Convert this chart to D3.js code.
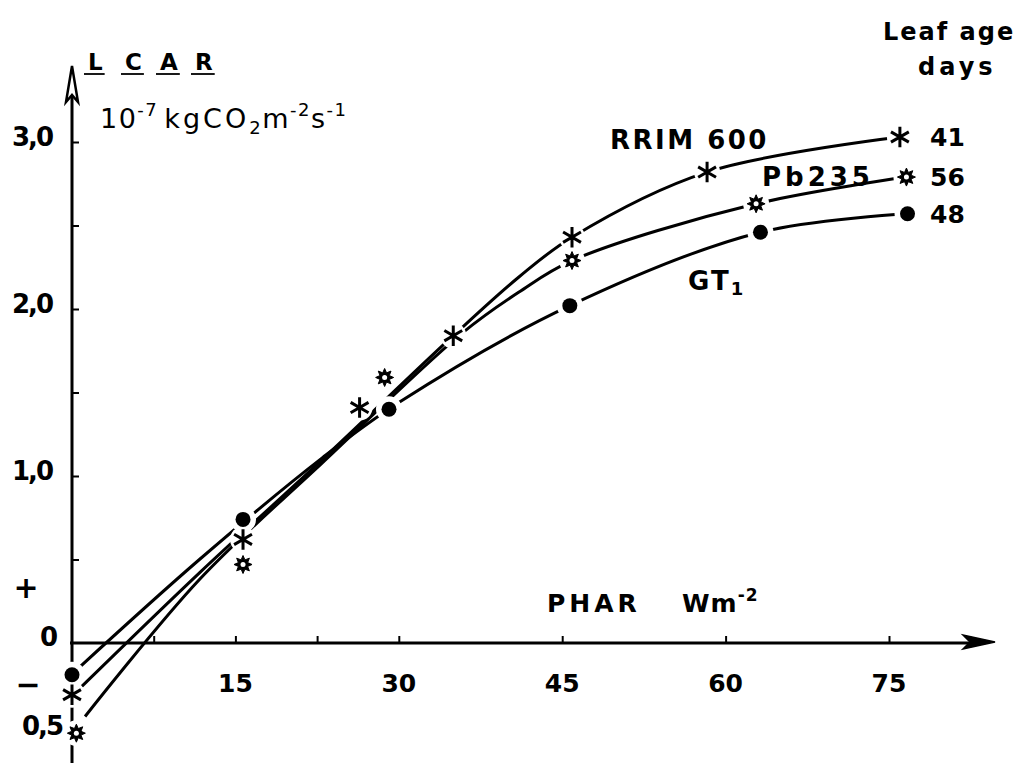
<!DOCTYPE html>
<html lang="en">
<head>
    <meta charset="utf-8">
    <title>LCAR vs PHAR</title>
    <style>
        body { margin: 0; background: #fff; }
        svg text { font-family: "DejaVu Sans", sans-serif; font-weight: bold; fill: #000; }
    </style>
</head>
<body>
    <div id="chart"></div>
    <script src="https://cdn.jsdelivr.net/npm/d3@7"></script>
    <script>
        // fitted curves [PHAR, LCAR]
        var rrimFit = [[0.9, -0.26], [11.7, 0.42], [23, 1.10], [35, 1.84], [41, 2.19], [45.9, 2.43], [58.3, 2.82], [76, 3.03]];
        var pbFit = [[1.2, -0.44], [11.7, 0.38], [23, 1.08], [35.9, 1.86], [41, 2.10], [45.9, 2.29], [62.8, 2.63], [76.6, 2.79]];
        var gt1Fit = [[0.6, -0.15], [11.7, 0.50], [23, 1.11], [30, 1.44], [45.7, 2.02], [63.2, 2.46], [76.7, 2.57]];

        // measured points
        var rrimPts = [[0, -0.31], [15.7, 0.62], [26.4, 1.41], [35, 1.84], [45.9, 2.43], [58.3, 2.82], [76, 3.03]];
        var pbPts = [[0.4, -0.54], [15.7, 0.47], [28.7, 1.59], [45.9, 2.29], [62.8, 2.63], [76.6, 2.79]];
        var gt1Pts = [[0, -0.19], [15.7, 0.74], [29.1, 1.40], [45.7, 2.02], [63.2, 2.46], [76.7, 2.57]];

        var xTicks = [7.5, 15, 22.5, 30, 45, 60, 75];
        var xTickLabels = ["15", "30", "45", "60", "75"];
        var yTicks = [0.5, 1, 1.5, 2, 2.5, 3];
        var yTickLabels = ["1,0", "2,0", "3,0"];
        var leafAges = ["41", "56", "48"];

        var w = 1030;
        var h = 763;

        var x = d3.scaleLinear().domain([0, 75]).range([72, 889]);
        var y = d3.scaleLinear().domain([0, 3]).range([643, 142]);

        var svg = d3.select("#chart").append("svg")
            .attr("width", w)
            .attr("height", h);

        var x0 = x(0);
        var yZero = y(0);

        // y axis line + arrow
        svg.append("line")
            .attr("x1", x0).attr("x2", x0)
            .attr("y1", h).attr("y2", 90)
            .attr("stroke", "#000").attr("stroke-width", 3);
        svg.append("path")
            .attr("d", "M" + x0 + ",66 L" + (x0 - 6) + ",102 L" + x0 + ",95 L" + (x0 + 6) + ",102 Z")
            .attr("fill", "#fff").attr("stroke", "#000").attr("stroke-width", 2.5);

        // x axis line + arrow
        svg.append("line")
            .attr("x1", x0 - 2).attr("x2", 975)
            .attr("y1", yZero).attr("y2", yZero)
            .attr("stroke", "#000").attr("stroke-width", 3);
        svg.append("path")
            .attr("d", "M995," + (yZero - 1) + " L963," + (yZero - 8) + " L970," + (yZero - 1) + " L963," + (yZero + 6) + " Z")
            .attr("fill", "#000").attr("stroke", "#000").attr("stroke-width", 1.5);

        // ticks
        var yAxis = svg.append("g")
            .attr("transform", "translate(" + x0 + ",0)")
            .call(d3.axisRight(y).tickValues(yTicks).tickSize(7).tickFormat(""));
        yAxis.select(".domain").remove();
        yAxis.selectAll("line").attr("stroke-width", 2);

        var xAxis = svg.append("g")
            .attr("transform", "translate(0," + yZero + ")")
            .call(d3.axisTop(x).tickValues(xTicks).tickSize(7).tickFormat(""));
        xAxis.select(".domain").remove();
        xAxis.selectAll("line").attr("stroke-width", 2);

        // tick labels
        svg.selectAll("text.xlab")
            .data(xTickLabels)
            .enter()
            .append("text")
            .attr("class", "xlab")
            .attr("x", function(d) { return x(+d); })
            .attr("y", 692)
            .attr("text-anchor", "middle")
            .attr("font-size", "25px")
            .text(function(d) { return d; });

        svg.selectAll("text.ylab")
            .data(yTickLabels)
            .enter()
            .append("text")
            .attr("class", "ylab")
            .attr("x", 52)
            .attr("y", function(d) { return y(+d.replace(",", ".")) + 4; })
            .attr("text-anchor", "end")
            .attr("font-size", "26px")
            .attr("letter-spacing", "-2px")
            .text(function(d) { return d; });

        svg.append("text").attr("x", 58).attr("y", yZero + 3)
            .attr("text-anchor", "end").attr("font-size", "26px").text("0");
        svg.append("text").attr("x", 62).attr("y", y(-0.5) + 8)
            .attr("text-anchor", "end").attr("font-size", "26px").attr("letter-spacing", "-2px").text("0,5");
        svg.append("text").attr("x", 26).attr("y", 598)
            .attr("text-anchor", "middle").attr("font-size", "30px").text("+");
        svg.append("text").attr("x", 28).attr("y", 695)
            .attr("text-anchor", "middle").attr("font-size", "30px").text("\u2212");

        // curves
        var line = d3.line()
            .x(function(d) { return x(d[0]); })
            .y(function(d) { return y(d[1]); })
            .curve(d3.curveCatmullRom.alpha(0.5));

        [rrimFit, pbFit, gt1Fit].forEach(function(s) {
            svg.append("path")
                .attr("d", line(s))
                .attr("fill", "none")
                .attr("stroke", "#000")
                .attr("stroke-width", 3);
        });

        // white gap round each marker
        var allPts = rrimPts.concat(pbPts, gt1Pts);
        svg.selectAll("circle.halo")
            .data(allPts)
            .enter()
            .append("circle")
            .attr("class", "halo")
            .attr("cx", function(d) { return x(d[0]); })
            .attr("cy", function(d) { return y(d[1]); })
            .attr("r", 13)
            .attr("fill", "#fff");

        // RRIM 600: asterisks
        svg.selectAll("path.rrim")
            .data(rrimPts)
            .enter()
            .append("path")
            .attr("class", "rrim")
            .attr("transform", function(d) { return "translate(" + x(d[0]) + "," + y(d[1]) + ")"; })
            .attr("d", d3.symbol(d3.symbolAsterisk, 300))
            .attr("fill", "none")
            .attr("stroke", "#000")
            .attr("stroke-width", 3);

        // Pb235: small stars
        var star = {
            draw: function(ctx, size) {
                var ro = 9, ri = 5;
                for (var i = 0; i < 16; i++) {
                    var r = i % 2 ? ri : ro;
                    var a = i * Math.PI / 8 - Math.PI / 2;
                    if (i === 0) ctx.moveTo(r * Math.cos(a), r * Math.sin(a));
                    else ctx.lineTo(r * Math.cos(a), r * Math.sin(a));
                }
                ctx.closePath();
            }
        };
        var pbG = svg.selectAll("g.pb")
            .data(pbPts)
            .enter()
            .append("g")
            .attr("class", "pb")
            .attr("transform", function(d) { return "translate(" + x(d[0]) + "," + y(d[1]) + ")"; });
        pbG.append("path")
            .attr("d", d3.symbol(star, 64))
            .attr("fill", "#000")
            .attr("stroke", "#000")
            .attr("stroke-width", 1);
        pbG.append("circle").attr("r", 2.5).attr("fill", "#fff");

        // GT1: dots
        svg.selectAll("circle.gt1")
            .data(gt1Pts)
            .enter()
            .append("circle")
            .attr("class", "gt1")
            .attr("cx", function(d) { return x(d[0]); })
            .attr("cy", function(d) { return y(d[1]); })
            .attr("r", 7.5)
            .attr("fill", "#000");

        // series labels
        svg.append("text").attr("x", 610).attr("y", 149)
            .attr("font-size", "26px").attr("letter-spacing", "2.5px").text("RRIM 600");
        svg.append("text").attr("x", 762).attr("y", 186)
            .attr("font-size", "26px").attr("letter-spacing", "4px").text("Pb235");
        var gt = svg.append("text").attr("x", 688).attr("y", 290)
            .attr("font-size", "26px").attr("letter-spacing", "2px");
        gt.append("tspan").text("GT");
        gt.append("tspan").attr("dy", 5).attr("font-size", "18px").text("1");

        // leaf ages
        var ends = [rrimPts[rrimPts.length - 1], pbPts[pbPts.length - 1], gt1Pts[gt1Pts.length - 1]];
        svg.selectAll("text.age")
            .data(leafAges)
            .enter()
            .append("text")
            .attr("class", "age")
            .attr("x", 930)
            .attr("y", function(d, i) { return y(ends[i][1]) + 9; })
            .attr("font-size", "25px")
            .text(function(d) { return d; });

        svg.append("text").attr("x", 883).attr("y", 40)
            .attr("font-size", "24px").attr("letter-spacing", "2px").text("Leaf age");
        svg.append("text").attr("x", 918).attr("y", 75)
            .attr("font-size", "24px").attr("letter-spacing", "4px").text("days");

        // axis titles
        svg.append("text").attr("x", 547).attr("y", 612)
            .attr("font-size", "25px").attr("letter-spacing", "4px").text("PHAR");
        var wm = svg.append("text").attr("x", 682).attr("y", 612)
            .attr("font-size", "25px").attr("letter-spacing", "1px");
        wm.append("tspan").text("Wm");
        wm.append("tspan").attr("dy", -11).attr("font-size", "17px").text("-2");

        var lcarX = [88, 125, 160, 195];
        "LCAR".split("").forEach(function(c, i) {
            var t = svg.append("text").attr("x", lcarX[i]).attr("y", 70)
                .attr("font-size", "23px").text(c);
            var bw = t.node().getComputedTextLength();
            svg.append("line")
                .attr("x1", lcarX[i] - 4).attr("x2", lcarX[i] + bw + 2)
                .attr("y1", 74).attr("y2", 74)
                .attr("stroke", "#000").attr("stroke-width", 1.8);
        });

        var unit = svg.append("text").attr("x", 100).attr("y", 128)
            .attr("font-size", "27px").style("font-weight", "normal").attr("letter-spacing", "1.5px");
        unit.append("tspan").text("10");
        unit.append("tspan").attr("dy", -12).attr("font-size", "18px").text("-7");
        unit.append("tspan").attr("dy", 12).attr("dx", 6).attr("letter-spacing", "3px").text("kgCO");
        unit.append("tspan").attr("dy", 6).attr("font-size", "18px").text("2");
        unit.append("tspan").attr("dy", -6).text("m");
        unit.append("tspan").attr("dy", -12).attr("font-size", "18px").text("-2");
        unit.append("tspan").attr("dy", 12).text("s");
        unit.append("tspan").attr("dy", -12).attr("font-size", "18px").text("-1");
    </script>
</body>
</html>
